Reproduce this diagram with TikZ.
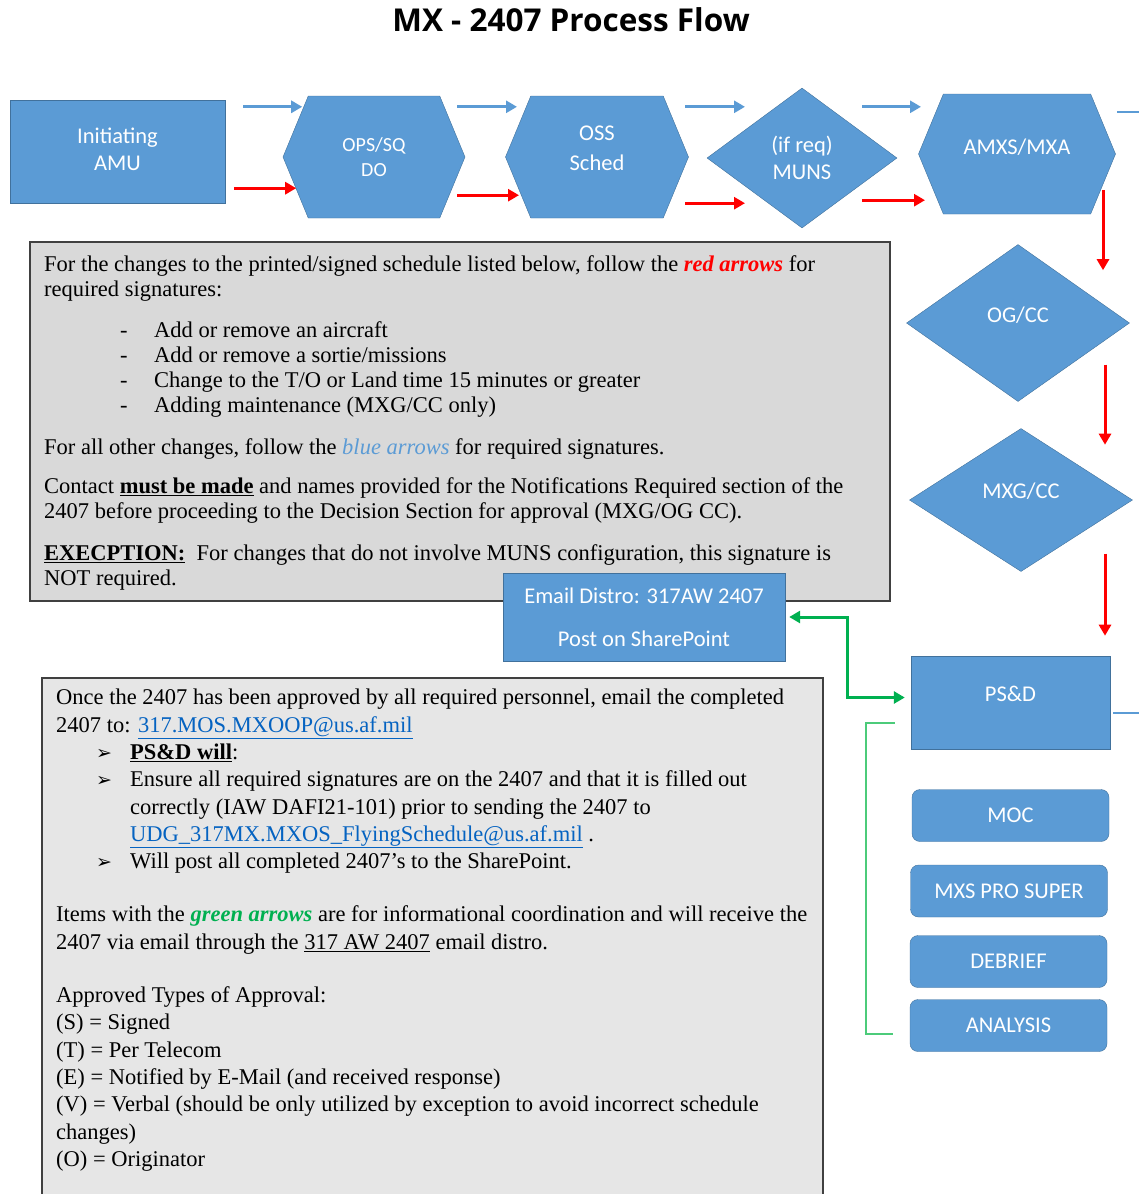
\documentclass[tikz,border=0pt]{standalone}
\usepackage{fontspec}
\setmainfont{Liberation Serif}
\newfontfamily\boxfont{Carlito}
\newfontfamily\titlefont{Open Sans}
\newfontfamily\symfont{DejaVu Sans}
\usetikzlibrary{positioning,shapes.geometric,shapes.symbols,arrows.meta}
\definecolor{boxblue}{HTML}{5B9BD5}
\definecolor{edgeblue}{HTML}{41719C}
\definecolor{arrred}{HTML}{FF0000}
\definecolor{arrgreen}{HTML}{00B050}
\definecolor{brgreen}{HTML}{4CCB7A}
\definecolor{notegray}{HTML}{D9D9D9}
\definecolor{notegrayb}{HTML}{E6E6E6}
\definecolor{linkblue}{HTML}{0563C1}
\newcommand{\arrbul}{{\symfont\fontsize{19}{19}\selectfont ➢}}
\newcommand{\lift}[1]{\rule[-#1pt]{0pt}{#1pt}}

\begin{document}
\begin{tikzpicture}[x=1pt,y=-1pt,
    blk/.style={draw=edgeblue,fill=boxblue,text=white,align=center,inner sep=0pt,
      font=\boxfont\fontsize{22.5}{27}\selectfont},
    rectblk/.style={blk,rectangle},
    hexblk/.style={blk,signal,signal to=east and west,signal pointer angle=135},
    diablk/.style={blk,diamond},
    roundblk/.style={blk,rectangle,rounded corners=8pt,minimum width=197pt,minimum height=52pt},
    bluearr/.style={draw=boxblue,line width=3pt,-{Triangle[length=11pt,width=12pt]}},
    redarr/.style={draw=arrred,line width=3pt,-{Triangle[length=11pt,width=12pt]}},
    greenarr/.style={draw=arrgreen,line width=3pt,{Triangle[length=11pt,width=12pt]}-{Triangle[length=11pt,width=12pt]}},
    note/.style={draw=black!75,line width=1.8pt,rectangle,inner sep=0pt},
    notetext/.style={anchor=north west,align=left,inner sep=0pt,font=\fontsize{22.5}{25}\selectfont}]
\clip (0,0) rectangle (1139,1194);

\node[font=\titlefont\bfseries\fontsize{31.5}{34}\selectfont] (title) at (571,20) {MX - 2407 Process Flow};

\node[rectblk,minimum width=215pt,minimum height=103pt] (amu) at (117.5,151.5) {Initiating\\AMU\lift{4}};
\node[hexblk,minimum width=182pt,minimum height=122pt,font=\boxfont\fontsize{20}{25}\selectfont] (ops) at (374,157) {OPS/SQ\\DO};
\node[hexblk,minimum width=183pt,minimum height=122pt,font=\boxfont\fontsize{22.5}{30}\selectfont] (oss) at (597,157) {OSS\\Sched\lift{18}};
\node[diablk,minimum width=190pt,minimum height=140pt] (muns) at (802,158) {(if req)\\MUNS};
\node[hexblk,minimum width=197pt,minimum height=120pt] (amxs) at (1017,154) {AMXS/MXA\lift{14}};
\node[diablk,minimum width=223pt,minimum height=157pt] (ogcc) at (1018,323) {OG/CC\lift{16}};
\node[diablk,minimum width=223pt,minimum height=143pt] (mxgcc) at (1021,500) {MXG/CC\lift{18}};

\node[note,fill=notegray,minimum width=860pt,minimum height=359pt,anchor=north west] (note1) at (29,241) {};
\node[notetext] (note1txt) at (44,255) {%
For the changes to the printed/signed schedule listed below, follow the \textcolor{arrred}{\textbf{\textit{red arrows}}} for\\
required signatures:\\[16pt]
\hspace*{76pt}\makebox[34pt][l]{-}Add or remove an aircraft\\
\hspace*{76pt}\makebox[34pt][l]{-}Add or remove a sortie/missions\\
\hspace*{76pt}\makebox[34pt][l]{-}Change to the T/O or Land time 15 minutes or greater\\
\hspace*{76pt}\makebox[34pt][l]{-}Adding maintenance (MXG/CC only)\\[17pt]
For all other changes, follow the \textcolor{boxblue}{\textit{blue arrows}} for required signatures.\\[14pt]
Contact \textbf{\underline{must be made}} and names provided for the Notifications Required section of the\\
2407 before proceeding to the Decision Section for approval (MXG/OG CC).\\[17pt]
\textbf{\underline{EXECPTION:}}\ \ For changes that do not involve MUNS configuration, this signature is\\
NOT required.};

\node[rectblk,minimum width=282pt,minimum height=88pt] (email) at (644,617) {Email Distro: 317AW 2407\\[16pt]Post on SharePoint};
\node[rectblk,minimum width=199pt,minimum height=93pt] (psd) at (1010.5,702.5) {PS\&D\lift{18}};

\node[note,fill=notegrayb,minimum width=781pt,minimum height=540pt,anchor=north west] (note2) at (41,677) {};
\node[notetext,font=\fontsize{22.5}{27.3}\selectfont] (note2txt) at (56,689) {%
Once the 2407 has been approved by all required personnel, email the completed\\
2407 to: \textcolor{linkblue}{\underline{317.MOS.MXOOP@us.af.mil}}\\
\hspace*{40pt}\makebox[34pt][l]{\arrbul}\textbf{\underline{PS\&D will}}:\\
\hspace*{40pt}\makebox[34pt][l]{\arrbul}Ensure all required signatures are on the 2407 and that it is filled out\\
\hspace*{74pt}correctly (IAW DAFI21-101) prior to sending the 2407 to\\
\hspace*{74pt}\textcolor{linkblue}{\underline{UDG\_317MX.MXOS\_FlyingSchedule@us.af.mil}} .\\
\hspace*{40pt}\makebox[34pt][l]{\arrbul}Will post all completed 2407’s to the SharePoint.\\[26pt]
Items with the \textcolor{arrgreen}{\textbf{\textit{green arrows}}} are for informational coordination and will receive the\\
2407 via email through the \underline{317 AW 2407} email distro.\\[26pt]
Approved Types of Approval:\\
(S) = Signed\\
(T) = Per Telecom\\
(E) = Notified by E-Mail (and received response)\\
(V) = Verbal (should be only utilized by exception to avoid incorrect schedule\\
changes)\\
(O) = Originator};

\node[roundblk] (moc) at (1010.5,815.5) {MOC};
\node[roundblk] (mxspro) at (1009,891) {MXS PRO SUPER};
\node[roundblk] (debrief) at (1008.5,961.5) {DEBRIEF};
\node[roundblk] (analysis) at (1008.5,1025.5) {ANALYSIS};

\draw[bluearr] ([shift={(18,7)}]amu.north east) -- ++(59,0);
\draw[bluearr] ([shift={(83,11)}]ops.north) -- ++(60,0);
\draw[bluearr] ([shift={(88,11)}]oss.north) -- ++(60,0);
\draw[bluearr] ([shift={(60,19)}]muns.north) -- ++(59,0);
\draw[draw=boxblue,line width=2pt] ([shift={(100,18)}]amxs.north) -- ++(24,0);

\draw[redarr] ([shift={(9,-15)}]amu.south east) -- ++(62,0);
\draw[redarr] ([shift={(83,-23)}]ops.south) -- ++(62,0);
\draw[redarr] ([shift={(88,-15)}]oss.south) -- ++(60,0);
\draw[redarr] ([shift={(60,-28)}]muns.south) -- ++(63,0);
\draw[redarr] ([shift={(86,-24)}]amxs.south) -- ++(0,80);
\draw[redarr] ([shift={(87,-37)}]ogcc.south) -- ++(0,80);
\draw[redarr] ([shift={(84,-18)}]mxgcc.south) -- ++(0,82);

\draw[draw=boxblue,line width=2pt] ([shift={(3,10)}]psd.east) -- ++(26,0);
\draw[greenarr] ([xshift=4pt]email.east) -- ++(58,0) |- ([shift={(-6,-5)}]psd.west);
\draw[draw=brgreen,line width=2pt] ([shift={(-16,-26)}]psd.south west) -- ++(-29,0) |- ([shift={(-17,8)}]analysis.west);
\end{tikzpicture}
\end{document}
